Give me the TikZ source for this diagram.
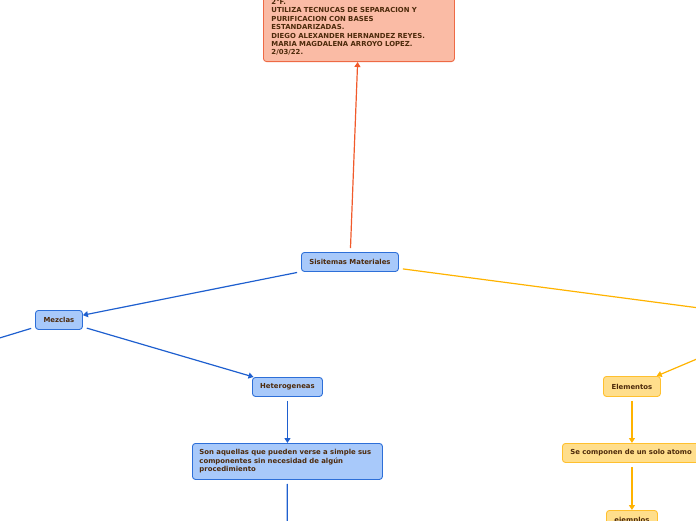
\documentclass[tikz,border=0pt]{standalone}
\usepackage{fontspec}
\setmainfont{DejaVu Sans}
\usetikzlibrary{arrows.meta}
\definecolor{txt}{HTML}{4D2A0B}
\definecolor{bfill}{HTML}{A8C9FA}
\definecolor{bdraw}{HTML}{2D6FD8}
\definecolor{bline}{HTML}{1E5FCF}
\definecolor{ofill}{HTML}{FFDE8C}
\definecolor{odraw}{HTML}{FFC02E}
\definecolor{oline}{HTML}{FFB300}
\definecolor{rfill}{HTML}{FABBA5}
\definecolor{rdraw}{HTML}{EE6A45}
\definecolor{rline}{HTML}{F15A2B}
\tikzset{
  basebox/.style={rounded corners=3pt, line width=0.9pt, text=txt,
    font=\fontsize{6.9}{8.4}\selectfont\bfseries, anchor=north west, inner sep=0pt},
  bluebox/.style={basebox, fill=bfill, draw=bdraw},
  orangebox/.style={basebox, fill=ofill, draw=odraw},
  redbox/.style={basebox, fill=rfill, draw=rdraw},
  conn/.style={line width=1.2pt, shorten <=4pt, -{Triangle[length=5pt,width=6pt]}},
  openconn/.style={line width=1.2pt, shorten <=4pt},
}
\begin{document}
\begin{tikzpicture}[x=1pt,y=-1pt]
\useasboundingbox (0,0) rectangle (696,520);
\clip (0,0) rectangle (696,520);

\node[redbox, anchor=south west, text width=175pt, align=left, inner xsep=8pt, inner ysep=6pt, minimum width=191pt] (top) at (263,62)
  {2°F.\\UTILIZA TECNUCAS DE SEPARACION Y\\PURIFICACION CON BASES\\ESTANDARIZADAS.\\DIEGO ALEXANDER HERNANDEZ REYES.\\MARIA MAGDALENA ARROYO LOPEZ.\\2/03/22.};

\node[bluebox, minimum width=97pt, minimum height=19pt] (sis) at (301,252) {Sisitemas Materiales};
\node[bluebox, minimum width=47pt, minimum height=19pt] (mez) at (35,310) {Mezclas};
\node[bluebox, minimum width=70pt, minimum height=19pt] (het) at (252,377) {Heterogeneas};
\node[bluebox, minimum width=190pt, minimum height=36pt, text width=176pt, align=left, inner xsep=7pt] (son) at (192,443)
  {Son aquellas que pueden verse a simple sus\\componentes sin necesidad de algún\\procedimiento};
\node[orangebox, minimum width=57pt, minimum height=20pt] (ele) at (603,376) {Elementos};
\node[orangebox, minimum width=139pt, minimum height=19pt, text width=123pt, align=left, inner xsep=8pt] (sec) at (562,443) {Se componen de un solo atomo};
\node[orangebox, minimum width=51pt, minimum height=20pt] (eje) at (606,510) {ejemplos};

\coordinate (lm) at (-40,350);
\coordinate (rs) at (760,316);
\coordinate (re) at (760,332.3);
\coordinate (ds) at (287,560);

\draw[conn, rline] (sis) -- (top);
\draw[conn, bline] (sis) -- (mez);
\draw[openconn, bline] (mez) -- (lm);
\draw[conn, bline] (mez) -- (het);
\draw[conn, bline] (het) -- (son);
\draw[openconn, bline] (son) -- (ds);
\draw[openconn, oline] (sis) -- (rs);
\draw[line width=1.2pt, oline, -{Triangle[length=5pt,width=6pt]}] (re) -- (ele);
\draw[conn, oline] (ele) -- (sec);
\draw[conn, oline] (sec) -- (eje);
\end{tikzpicture}
\end{document}
